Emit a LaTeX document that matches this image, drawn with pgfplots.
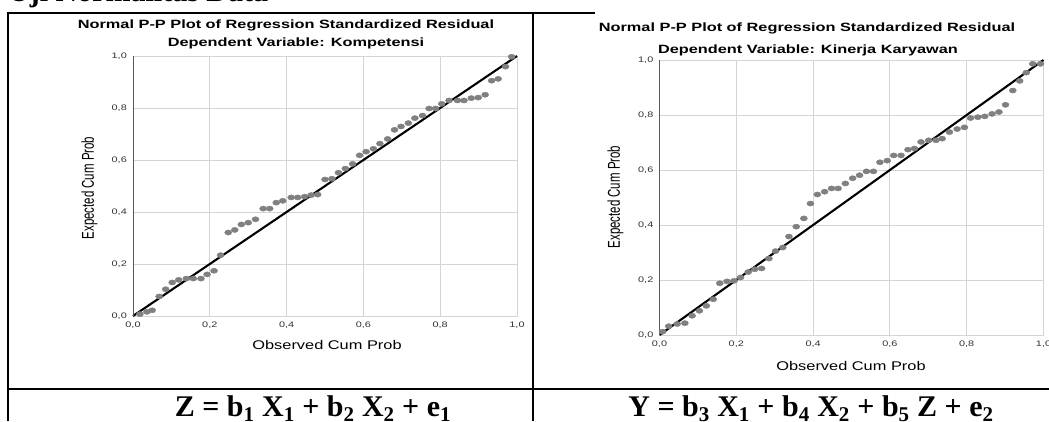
\documentclass[border=0pt]{standalone}
\usepackage{fontspec}
\setmainfont{Liberation Sans}
\newfontfamily\serifb{Liberation Serif}
\usepackage{graphicx}
\usepackage{pgfplots}
\pgfplotsset{compat=1.18}
\definecolor{dotgray}{HTML}{808080}
\definecolor{gridgray}{HTML}{D4D4D4}
% the SPSS screenshots are stretched sideways
\newcommand{\sx}[1]{\scalebox{1.36}[1]{#1}}
\newcommand{\sy}[1]{\scalebox{0.91}[1.36]{#1}}
\newcommand{\sxl}[1]{\scalebox{1.3}[1]{#1}}

\pgfplotstableread{
x y
0.018 0.007
0.036 0.016
0.050 0.022
0.068 0.075
0.085 0.103
0.102 0.129
0.119 0.139
0.139 0.144
0.157 0.144
0.177 0.144
0.193 0.160
0.211 0.174
0.228 0.234
0.248 0.321
0.265 0.331
0.282 0.352
0.300 0.359
0.319 0.372
0.339 0.413
0.356 0.413
0.373 0.436
0.390 0.443
0.412 0.456
0.429 0.456
0.447 0.459
0.464 0.465
0.481 0.467
0.500 0.525
0.518 0.528
0.535 0.551
0.553 0.567
0.572 0.585
0.590 0.618
0.607 0.632
0.626 0.643
0.643 0.663
0.663 0.681
0.681 0.716
0.698 0.729
0.717 0.742
0.734 0.761
0.754 0.771
0.771 0.798
0.788 0.798
0.804 0.816
0.823 0.829
0.845 0.829
0.862 0.829
0.881 0.838
0.899 0.840
0.917 0.851
0.934 0.905
0.951 0.912
0.970 0.959
0.986 0.997
}\kompetensi

\pgfplotstableread{
x y
0.008 0.012
0.024 0.032
0.046 0.040
0.066 0.043
0.085 0.070
0.104 0.088
0.122 0.106
0.140 0.130
0.157 0.188
0.176 0.195
0.194 0.197
0.211 0.209
0.231 0.229
0.248 0.239
0.266 0.242
0.285 0.278
0.302 0.305
0.321 0.318
0.337 0.358
0.356 0.394
0.376 0.424
0.393 0.478
0.411 0.511
0.430 0.521
0.448 0.533
0.465 0.533
0.484 0.551
0.503 0.570
0.521 0.581
0.539 0.595
0.557 0.595
0.574 0.628
0.593 0.634
0.610 0.653
0.629 0.653
0.647 0.674
0.664 0.678
0.681 0.702
0.701 0.708
0.720 0.708
0.736 0.714
0.755 0.738
0.775 0.749
0.794 0.755
0.810 0.789
0.829 0.792
0.847 0.795
0.866 0.804
0.884 0.811
0.901 0.837
0.920 0.889
0.938 0.924
0.955 0.954
0.972 0.986
0.992 0.986
}\kinerja

\pgfplotsset{
  pp/.style={
    scale only axis, anchor=south west,
    xmin=0, xmax=1, ymin=0, ymax=1,
    xtick={0,0.2,0.4,0.6,0.8,1}, ytick={0,0.2,0.4,0.6,0.8,1},
    xticklabels={{\sx{0,0}},{\sx{0,2}},{\sx{0,4}},{\sx{0,6}},{\sx{0,8}},{\sx{1,0}}},
    yticklabels={{\sx{0,0}},{\sx{0,2}},{\sx{0,4}},{\sx{0,6}},{\sx{0,8}},{\sx{1,0}}},
    grid=major, grid style={draw=gridgray, line width=0.9pt},
    axis line style={draw=gridgray, line width=0.9pt},
    major tick length=0pt,
    tick label style={font=\fontsize{8}{9}\selectfont, text=black!80, inner sep=0pt},
    xticklabel style={anchor=center, yshift=-9pt},
    yticklabel style={anchor=east, xshift=-6pt},
    clip=false,
  },
  dots/.style={only marks, mark=*, mark size=2.6pt, color=dotgray,
    mark options={xscale=1.36, draw=dotgray, fill=dotgray}},
  refline/.style={black, line width=2.1pt},
}

\begin{document}
\begin{tikzpicture}[x=1pt, y=1pt]
\useasboundingbox (0,0) rectangle (1049,421);
\clip (0,0) rectangle (1049,421);

% heading above the table, mostly cut off
\node[anchor=base west, inner sep=0pt] at (8,419)
  {\serifb\bfseries\fontsize{30}{32}\selectfont Uji Normalitas Data};

% table rules
\draw[black, line width=2pt] (7.5,0) -- (7.5,408) -- (595,408);
\draw[black, line width=2pt] (533,0) -- (533,408);
\draw[black, line width=2pt] (7.5,32) -- (1049,32);

% left chart
\node[font=\bfseries\fontsize{12}{14}\selectfont] at (286,396)
  {\sx{Normal P-P Plot of Regression Standardized Residual}};
\node[font=\bfseries\fontsize{12}{14}\selectfont] at (296,378)
  {\sx{Dependent Variable: Kompetensi}};
\begin{axis}[pp, at={(133pt,105pt)}, width=384pt, height=260pt]
  \addplot[dots] table[x=x, y=y] {\kompetensi};
  \addplot[refline] coordinates {(0,0) (1,1)};
  \draw[black!65, line width=1pt] (axis cs:0,0) -- (axis cs:0,1);
\end{axis}
\node[font=\fontsize{12.6}{14}\selectfont, rotate=90] at (89.5,233)
  {\sy{Expected Cum Prob}};
\node[font=\fontsize{12.6}{14}\selectfont] at (327,76)
  {\sxl{Observed Cum Prob}};

% right chart
\node[font=\bfseries\fontsize{12}{14}\selectfont] at (807,393)
  {\sx{Normal P-P Plot of Regression Standardized Residual}};
\node[font=\bfseries\fontsize{12}{14}\selectfont] at (808,371)
  {\sx{Dependent Variable: Kinerja Karyawan}};
\begin{axis}[pp, at={(659.5pt,86pt)}, width=384pt, height=275pt]
  \addplot[dots] table[x=x, y=y] {\kinerja};
  \addplot[refline] coordinates {(0,0) (1,1)};
  \draw[black!65, line width=1pt] (axis cs:0,0) -- (axis cs:0,1);
\end{axis}
\node[font=\fontsize{12.6}{14}\selectfont, rotate=90] at (615.5,224)
  {\sy{Expected Cum Prob}};
\node[font=\fontsize{12.6}{14}\selectfont] at (851,55)
  {\sxl{Observed Cum Prob}};

% model equations
\node[anchor=base, inner sep=0pt] at (313,5)
  {\serifb\bfseries\fontsize{30}{32}\selectfont
   Z = b\textsubscript{1} X\textsubscript{1} + b\textsubscript{2} X\textsubscript{2} + e\textsubscript{1}};
\node[anchor=base, inner sep=0pt] at (811,5)
  {\serifb\bfseries\fontsize{30}{32}\selectfont
   Y = b\textsubscript{3} X\textsubscript{1} + b\textsubscript{4} X\textsubscript{2} + b\textsubscript{5} Z + e\textsubscript{2}};
\end{tikzpicture}
\end{document}
